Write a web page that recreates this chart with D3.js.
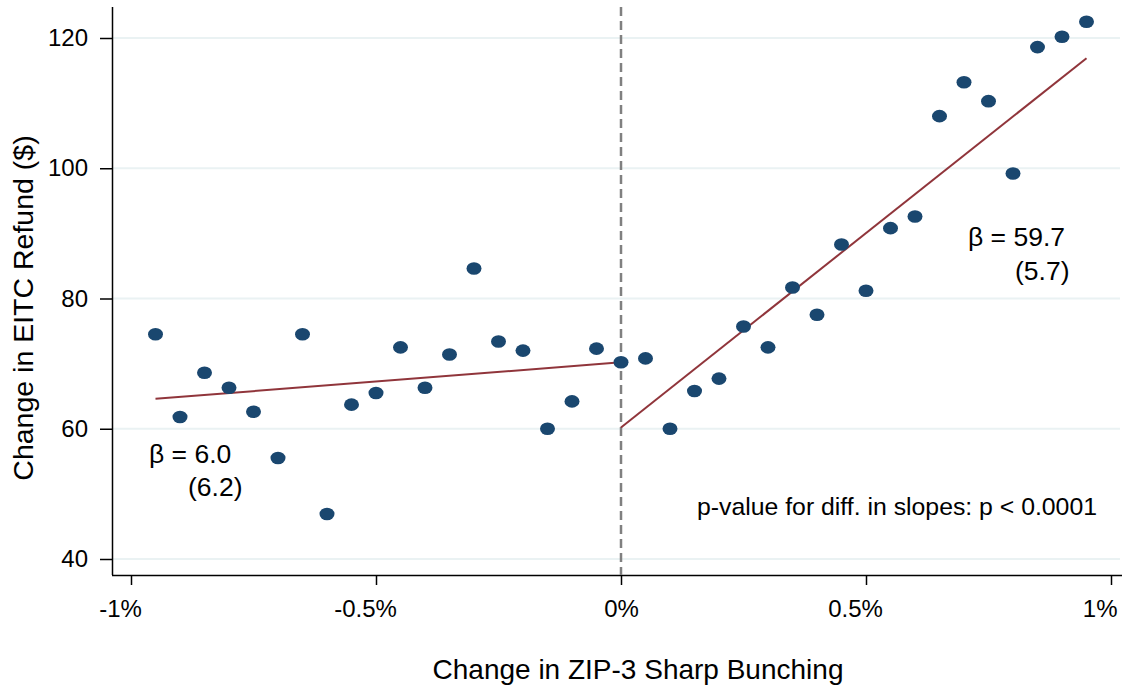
<!DOCTYPE html>
<html>
<head>
<meta charset="utf-8">
<script src="https://cdn.jsdelivr.net/npm/d3@7"></script>
<style>
  body { margin: 0; background: #fff; }
  svg { font-family: "Liberation Sans", Arial, sans-serif; }
</style>
</head>
<body>
<svg width="1122" height="687"></svg>
<script>
// binned scatter, x in percent
var leftX = [-0.95, -0.90, -0.85, -0.80, -0.75, -0.70, -0.65, -0.60, -0.55, -0.50,
             -0.45, -0.40, -0.35, -0.30, -0.25, -0.20, -0.15, -0.10, -0.05, 0.00];
var leftY = [74.5, 61.8, 68.6, 66.3, 62.6, 55.5, 74.5, 46.9, 63.7, 65.5,
             72.5, 66.3, 71.4, 84.6, 73.4, 72.0, 60.0, 64.2, 72.3, 70.2];
var rightX = [0.05, 0.10, 0.15, 0.20, 0.25, 0.30, 0.35, 0.40, 0.45, 0.50,
              0.55, 0.60, 0.65, 0.70, 0.75, 0.80, 0.85, 0.90, 0.95];
var rightY = [70.8, 60.0, 65.8, 67.7, 75.7, 72.5, 81.7, 77.5, 88.3, 81.2,
              90.8, 92.6, 108.0, 113.2, 110.3, 99.2, 118.6, 120.2, 122.5];

// fitted lines [x0, y0, x1, y1]
var leftFit = [-0.95, 64.6, 0, 70.2];
var rightFit = [0, 60.2, 0.95, 116.9];

var xTicks = [-1, -0.5, 0, 0.5, 1];
var xTickLabels = ["-1%", "-0.5%", "0%", "0.5%", "1%"];
var yTicks = [40, 60, 80, 100, 120];

var navy = "#1a476f", red = "#90353b";

var svg = d3.select("svg");
var x = d3.scaleLinear().domain([-1, 1]).range([131, 1111]);
var y = d3.scaleLinear().domain([40, 120]).range([559, 38]);

var axisLeft = 112, axisBottom = 575;

// gridlines
svg.append("g").selectAll("line")
  .data(yTicks).enter().append("line")
  .attr("x1", axisLeft + 1).attr("x2", 1120)
  .attr("y1", function(d) { return y(d); })
  .attr("y2", function(d) { return y(d); })
  .attr("stroke", "#eaf2f3").attr("stroke-width", 2);

// axes
var yAxis = svg.append("g")
  .attr("transform", "translate(" + axisLeft + ",0)")
  .call(d3.axisLeft(y).tickValues(yTicks).tickSize(12).tickPadding(12));
yAxis.select(".domain").attr("d", "M0.5,7V" + axisBottom);

var xAxis = svg.append("g")
  .attr("transform", "translate(0," + axisBottom + ")")
  .call(d3.axisBottom(x).tickValues(xTicks).tickSize(10).tickPadding(15)
    .tickFormat(function(d, i) { return xTickLabels[i]; }));
xAxis.select(".domain").attr("d", "M" + axisLeft + ",0.5H1122");
// labels sit a bit left of their ticks in the original (except 0%)
xAxis.selectAll(".tick text").attr("x", function(d) { return d === 0 ? 0 : -11; });
xAxis.selectAll(".tick text").filter(function(d) { return d === 1; })
  .attr("text-anchor", "end").attr("x", 6);

svg.selectAll(".tick text").attr("font-size", 24).attr("fill", "#000")
  .attr("font-family", "Liberation Sans, Arial, sans-serif");
svg.selectAll(".tick line, .domain").attr("stroke", "#000").attr("stroke-width", 1.5);

// cutoff
svg.append("line")
  .attr("x1", x(0)).attr("x2", x(0))
  .attr("y1", 7).attr("y2", axisBottom)
  .attr("stroke", "#808080").attr("stroke-width", 2.5)
  .attr("stroke-dasharray", "9,5");

// fit lines
[leftFit, rightFit].forEach(function(f) {
  svg.append("line")
    .attr("x1", x(f[0])).attr("y1", y(f[1]))
    .attr("x2", x(f[2])).attr("y2", y(f[3]))
    .attr("stroke", red).attr("stroke-width", 2);
});

// points
var pts = leftX.map(function(v, i) { return [v, leftY[i]]; })
  .concat(rightX.map(function(v, i) { return [v, rightY[i]]; }));
svg.append("g").selectAll("ellipse")
  .data(pts).enter().append("ellipse")
  .attr("cx", function(d) { return x(d[0]); })
  .attr("cy", function(d) { return y(d[1]); })
  .attr("rx", 7.5).attr("ry", 6.3)
  .attr("fill", navy);

// annotations
function txt(t, px, py, size, anchor) {
  return svg.append("text").attr("x", px).attr("y", py)
    .attr("font-size", size).attr("fill", "#000")
    .attr("text-anchor", anchor || "start").text(t);
}
txt("β = 6.0", 149, 463, 26.5);
txt("(6.2)", 188, 496, 26.5);
txt("β = 59.7", 968, 246, 26.5);
txt("(5.7)", 1015, 280, 26.5);
txt("p-value for diff. in slopes: p < 0.0001", 697, 515, 24.8);

// axis titles
txt("Change in ZIP-3 Sharp Bunching", 638, 679, 28, "middle");
svg.append("text")
  .attr("transform", "translate(33,308) rotate(-90)")
  .attr("text-anchor", "middle").attr("font-size", 28.5).attr("fill", "#000")
  .text("Change in EITC Refund ($)");
</script>
</body>
</html>
